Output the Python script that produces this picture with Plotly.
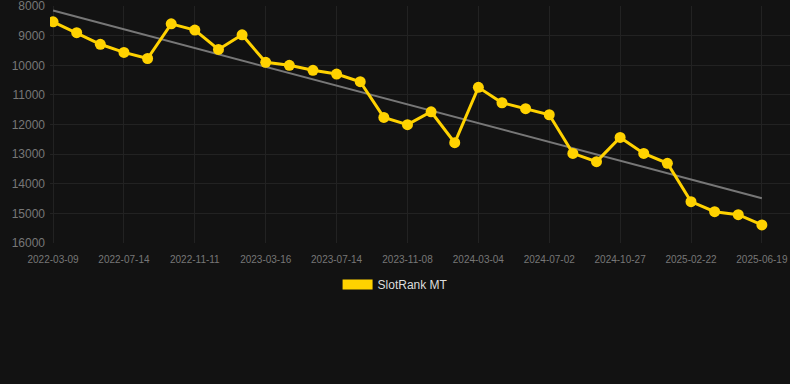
import numpy as np
import plotly.graph_objects as go

dates = [
    "2022-03-09", "2022-04-21", "2022-06-01", "2022-07-14", "2022-08-23", "2022-10-02",
    "2022-11-11", "2022-12-23", "2023-02-02", "2023-03-16", "2023-04-25", "2023-06-04",
    "2023-07-14", "2023-08-22", "2023-09-30", "2023-11-08", "2023-12-17", "2024-01-25",
    "2024-03-04", "2024-04-13", "2024-05-23", "2024-07-02", "2024-08-10", "2024-09-18",
    "2024-10-27", "2024-12-06", "2025-01-14", "2025-02-22", "2025-04-02", "2025-05-11",
    "2025-06-19",
]
rank = [
    8530, 8900, 9290, 9565, 9770, 8600, 8810, 9465, 8970, 9900,
    10000, 10170, 10295, 10555, 11760, 12005, 11570, 12615, 10745, 11265,
    11465, 11670, 12975, 13255, 12435, 12975, 13310, 14605, 14945, 15045,
    15390,
]
tick_labels = dates[::3]
y_ticks = [8000, 9000, 10000, 11000, 12000, 13000, 14000, 15000, 16000]
y_tick_text = [str(v) for v in y_ticks]

idx = np.arange(len(rank))
slope, intercept = np.polyfit(idx, rank, 1)
trend = slope * idx + intercept

YELLOW = "#FFD200"
BG = "#121212"
GRID = "#222222"

fig = go.Figure()
fig.add_trace(go.Scatter(
    x=idx, y=trend, mode="lines",
    line=dict(color="#777777", width=2),
    showlegend=False, hoverinfo="skip",
))
fig.add_trace(go.Scatter(
    x=idx, y=rank, mode="lines+markers",
    line=dict(color=YELLOW, width=3),
    marker=dict(color=YELLOW, size=11),
    showlegend=False, name="SlotRank MT",
))
fig.add_trace(go.Scatter(
    x=[None], y=[None], mode="lines",
    line=dict(color=YELLOW, width=12),
    name="SlotRank MT", showlegend=True,
))

fig.update_layout(
    width=790, height=384,
    paper_bgcolor=BG, plot_bgcolor=BG,
    margin=dict(l=50, r=0, t=6, b=141, autoexpand=False),
    font=dict(family="Liberation Sans, Arial, sans-serif", color="#777777"),
    showlegend=True,
    legend=dict(
        orientation="h", x=0.467, xanchor="center",
        y=-0.114, yanchor="top",
        font=dict(size=12, color="#dddddd"), bgcolor="rgba(0,0,0,0)",
    ),
    xaxis=dict(
        range=[-0.13, 31.19],
        tickmode="array", tickvals=list(idx[::3]), ticktext=tick_labels,
        tickfont=dict(size=10, color="#777777"), tickangle=0,
        showgrid=True, gridcolor=GRID, gridwidth=1,
        zeroline=False, showline=False, ticks="", automargin=False,
        ticklabelstandoff=9, ticklabeloverflow="allow",
    ),
    yaxis=dict(
        range=[16002, 7997],
        tickmode="array", tickvals=y_ticks, ticktext=y_tick_text,
        tickfont=dict(size=12, color="#777777"),
        showgrid=True, gridcolor=GRID, gridwidth=1,
        zeroline=False, showline=False, ticks="", ticklabelstandoff=4,
        automargin=False, ticklabeloverflow="allow",
    ),
)

fig.write_html(
    "out.html",
    config={"displayModeBar": False},
    post_script="document.body.style.margin='0';document.body.style.background='#121212';",
)
